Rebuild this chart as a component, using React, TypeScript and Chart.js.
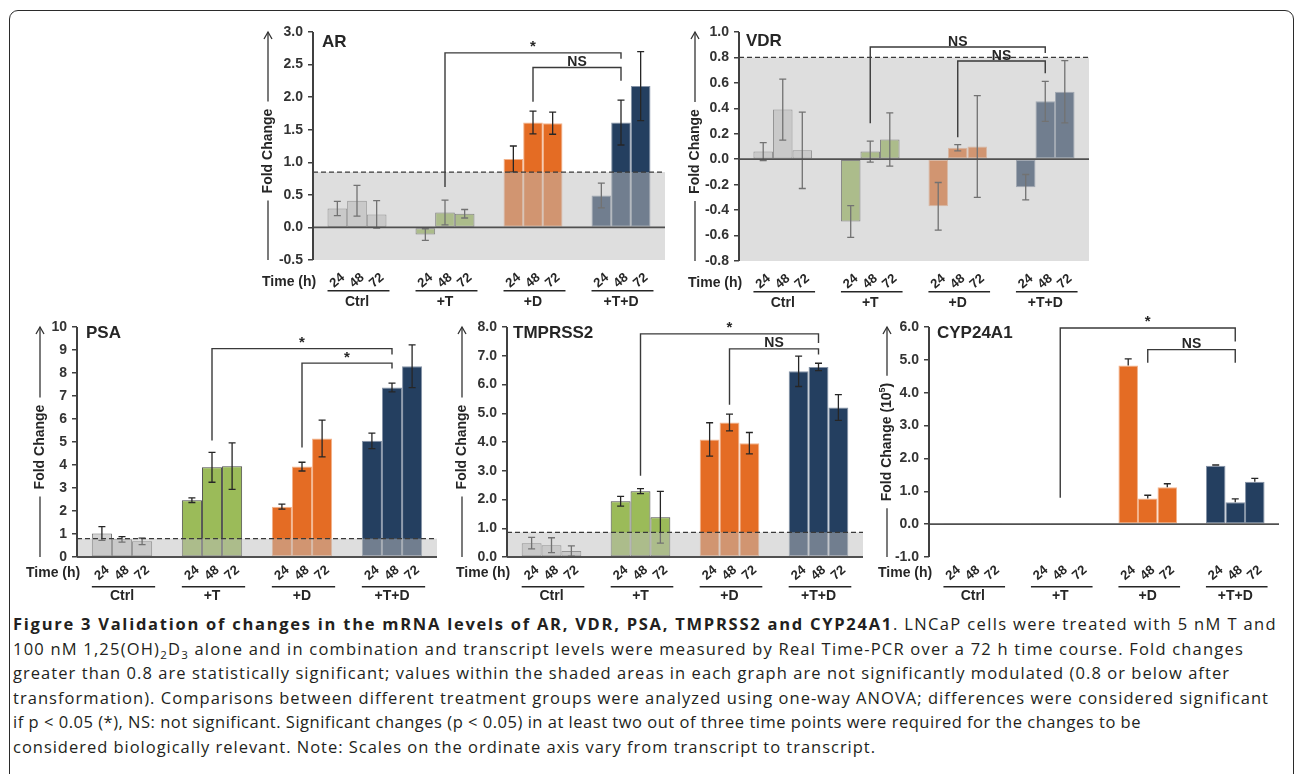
import React, { useEffect, useLayoutEffect, useRef } from 'react';
import { Chart, registerables } from 'chart.js';

Chart.register(...registerables);

// ---------- data ----------
const TIMES = ['24', '48', '72'];
const GROUPS = ['Ctrl', '+T', '+D', '+T+D'];

// AR
const AR_24 = [0.29, -0.11, 1.05, 0.49];
const AR_48 = [0.41, 0.23, 1.61, 1.61];
const AR_72 = [0.2, 0.21, 1.6, 2.17];
const AR_ERR_24 = [0.11, 0.09, 0.2, 0.19];
const AR_ERR_48 = [0.235, 0.19, 0.175, 0.345];
const AR_ERR_72 = [0.21, 0.065, 0.17, 0.53];

// VDR
const VDR_24 = [0.06, -0.49, -0.37, -0.22];
const VDR_48 = [0.39, 0.06, 0.09, 0.455];
const VDR_72 = [0.07, 0.155, 0.1, 0.53];
const VDR_ERR_24 = [0.07, 0.125, 0.187, 0.1];
const VDR_ERR_48 = [0.24, 0.083, 0.025, 0.157];
const VDR_ERR_72 = [0.3, 0.21, 0.4, 0.245];

// PSA
const PSA_24 = [1.02, 2.47, 2.19, 5.05];
const PSA_48 = [0.77, 3.9, 3.93, 7.37];
const PSA_72 = [0.68, 3.95, 5.15, 8.29];
const PSA_ERR_24 = [0.3, 0.1, 0.11, 0.34];
const PSA_ERR_48 = [0.12, 0.65, 0.19, 0.19];
const PSA_ERR_72 = [0.14, 1.01, 0.8, 0.93];

// TMPRSS2
const TMP_24 = [0.48, 1.94, 4.09, 6.46];
const TMP_48 = [0.41, 2.29, 4.68, 6.61];
const TMP_72 = [0.21, 1.38, 3.96, 5.2];
const TMP_ERR_24 = [0.2, 0.17, 0.58, 0.53];
const TMP_ERR_48 = [0.26, 0.085, 0.29, 0.13];
const TMP_ERR_72 = [0.18, 0.9, 0.37, 0.45];

// CYP24A1 (x10^5)
const CYP_24 = [0.01, 0.01, 4.83, 1.78];
const CYP_48 = [0.01, 0.01, 0.78, 0.67];
const CYP_72 = [0.01, 0.01, 1.12, 1.29];
const CYP_ERR_24 = [0, 0, 0.2, 0.02];
const CYP_ERR_48 = [0, 0, 0.1, 0.1];
const CYP_ERR_72 = [0, 0, 0.11, 0.1];

// significance brackets: [group, time] endpoints, levels in data units
const AR_BRACKETS = [
  { from: [1, 1], to: [3, 1], top: 2.68, start: 0.62, end: 2.59, label: '*' },
  { from: [2, 1], to: [3, 1], top: 2.455, start: 1.93, end: 2.25, label: 'NS' },
];
const VDR_BRACKETS = [
  { from: [1, 1], to: [3, 1], top: 0.882, start: 0.282, end: 0.835, label: 'NS' },
  { from: [2, 1], to: [3, 1], top: 0.772, start: 0.172, end: 0.675, label: 'NS' },
];
const PSA_BRACKETS = [
  { from: [1, 1], to: [3, 1], top: 9.06, start: 5.07, end: 8.8, label: '*' },
  { from: [2, 1], to: [3, 1], top: 8.43, start: 4.76, end: 8.2, label: '*' },
];
const TMP_BRACKETS = [
  { from: [1, 1], to: [3, 1], top: 7.76, start: 2.83, end: 7.44, label: '*' },
  { from: [2, 1], to: [3, 1], top: 7.24, start: 5.3, end: 7.04, label: 'NS' },
];
const CYP_BRACKETS = [
  { from: [1, 1], to: [3, 1], top: 5.97, start: 0.8, end: 5.56, label: '*' },
  { from: [2, 1], to: [3, 1], top: 5.31, start: 4.91, end: 4.91, label: 'NS' },
];

// ---------- styles ----------
const FILL = ['#D4D4D4', '#9BBB59', '#E46C24', '#243F60'];
const EDGE = ['#6A6A6A', '#4A4A4A', '#F2B38C', '#8593A6'];
const SANS = '"Liberation Sans", Arial, sans-serif';
const INK = '#262626';

type Part = { t: string; sup?: boolean };
type Cfg = {
  id: string;
  title: string;
  series: number[][];
  errs: number[][];
  upOnly?: boolean;
  min: number;
  max: number;
  step: number;
  dec: number;
  shade: number | null;
  brackets: any[];
  axisX: number;
  plotTop: number;
  plotBottom: number;
  plotRight: number;
  titleDx: number;
  titleDy: number;
  ytOff: number;
  ytShift: number;
  yt: Part[];
  lab: { num: number; time: number; line: number; grp: number };
};

const TOP_LAB = { num: 20.5, time: 22.5, line: 30.7, grp: 41.7 };
const BOT_LAB = { num: 16, time: 16.3, line: 29.7, grp: 39 };
const FC: Part[] = [{ t: 'Fold Change' }];

const PANELS: Cfg[] = [
  {
    id: 'ar', title: 'AR', series: [AR_24, AR_48, AR_72], errs: [AR_ERR_24, AR_ERR_48, AR_ERR_72],
    min: -0.5, max: 3, step: 0.5, dec: 1, shade: 0.85, brackets: AR_BRACKETS,
    axisX: 313, plotTop: 32, plotBottom: 260, plotRight: 665,
    titleDx: 9, titleDy: 10, ytOff: 45, ytShift: 5, yt: FC, lab: TOP_LAB,
  },
  {
    id: 'vdr', title: 'VDR', series: [VDR_24, VDR_48, VDR_72], errs: [VDR_ERR_24, VDR_ERR_48, VDR_ERR_72],
    min: -0.8, max: 1.0, step: 0.2, dec: 1, shade: 0.8, brackets: VDR_BRACKETS,
    axisX: 739, plotTop: 32, plotBottom: 261, plotRight: 1089,
    titleDx: 7, titleDy: 9, ytOff: 44, ytShift: 5, yt: FC, lab: TOP_LAB,
  },
  {
    id: 'psa', title: 'PSA', series: [PSA_24, PSA_48, PSA_72], errs: [PSA_ERR_24, PSA_ERR_48, PSA_ERR_72],
    min: 0, max: 10, step: 1, dec: 0, shade: 0.8, brackets: PSA_BRACKETS,
    axisX: 77, plotTop: 327, plotBottom: 557, plotRight: 437,
    titleDx: 9, titleDy: 6, ytOff: 37, ytShift: 5, yt: FC, lab: BOT_LAB,
  },
  {
    id: 'tmp', title: 'TMPRSS2', series: [TMP_24, TMP_48, TMP_72], errs: [TMP_ERR_24, TMP_ERR_48, TMP_ERR_72],
    min: 0, max: 8, step: 1, dec: 1, shade: 0.86, brackets: TMP_BRACKETS,
    axisX: 507, plotTop: 327, plotBottom: 557, plotRight: 863,
    titleDx: 6, titleDy: 6, ytOff: 45, ytShift: 5, yt: FC, lab: BOT_LAB,
  },
  {
    id: 'cyp', title: 'CYP24A1', series: [CYP_24, CYP_48, CYP_72], errs: [CYP_ERR_24, CYP_ERR_48, CYP_ERR_72],
    upOnly: true, min: -1, max: 6, step: 1, dec: 1, shade: null, brackets: CYP_BRACKETS,
    axisX: 929, plotTop: 327, plotBottom: 557, plotRight: 1279,
    titleDx: 8, titleDy: 6, ytOff: 42, ytShift: 0,
    yt: [{ t: 'Fold Change (10' }, { t: '5', sup: true }, { t: ')' }], lab: BOT_LAB,
  },
];

const PAD_L = 62;
const PAD_T = 14;
const PAD_B = 50;
const PAD_R = 6;

function line(ctx: CanvasRenderingContext2D, x1: number, y1: number, x2: number, y2: number) {
  ctx.beginPath();
  ctx.moveTo(x1, y1);
  ctx.lineTo(x2, y2);
  ctx.stroke();
}

function decoPlugin(cfg: Cfg) {
  return {
    id: 'deco_' + cfg.id,
    afterDatasetsDraw(chart: any) {
      const ctx: CanvasRenderingContext2D = chart.ctx;
      const ca = chart.chartArea;
      const ys = chart.scales.y;
      ctx.save();
      // error bars
      chart.data.datasets.forEach((ds: any, di: number) => {
        const meta = chart.getDatasetMeta(di);
        meta.data.forEach((el: any, i: number) => {
          const e = cfg.errs[di][i];
          if (!e) return;
          const v = ds.data[i];
          const yHi = ys.getPixelForValue(v + e);
          const yLo = ys.getPixelForValue(cfg.upOnly ? v : v - e);
          ctx.strokeStyle = INK;
          ctx.lineWidth = 1.3;
          ctx.beginPath();
          ctx.moveTo(el.x, yLo);
          ctx.lineTo(el.x, yHi);
          ctx.moveTo(el.x - 3.5, yHi);
          ctx.lineTo(el.x + 3.5, yHi);
          if (!cfg.upOnly) {
            ctx.moveTo(el.x - 3.5, yLo);
            ctx.lineTo(el.x + 3.5, yLo);
          }
          ctx.stroke();
        });
      });
      // non-significant shaded band
      if (cfg.shade !== null) {
        const yt = ys.getPixelForValue(cfg.shade);
        ctx.fillStyle = 'rgba(189,189,189,0.5)';
        ctx.fillRect(ca.left, yt, ca.right - ca.left, ca.bottom - yt);
      }
      // zero line
      const y0 = ys.getPixelForValue(0);
      ctx.strokeStyle = '#505050';
      ctx.lineWidth = 1.8;
      line(ctx, ca.left, y0, ca.right, y0);
      // dashed threshold
      if (cfg.shade !== null) {
        const yt = ys.getPixelForValue(cfg.shade);
        ctx.strokeStyle = '#3A3A3A';
        ctx.lineWidth = 1.3;
        ctx.setLineDash([5, 3]);
        line(ctx, ca.left, yt, ca.right, yt);
        ctx.setLineDash([]);
      }
      // y axis line
      ctx.strokeStyle = '#404040';
      ctx.lineWidth = 2;
      line(ctx, ca.left, ca.top, ca.left, ca.bottom);
      ctx.restore();
    },
    afterDraw(chart: any) {
      const ctx: CanvasRenderingContext2D = chart.ctx;
      const ca = chart.chartArea;
      const ys = chart.scales.y;
      ctx.save();
      ctx.fillStyle = INK;
      // panel title
      ctx.font = `bold 17px ${SANS}`;
      ctx.textAlign = 'left';
      ctx.textBaseline = 'middle';
      ctx.fillText(cfg.title, ca.left + cfg.titleDx, ca.top + cfg.titleDy);

      // brackets
      cfg.brackets.forEach((b: any) => {
        const xa = chart.getDatasetMeta(b.from[1]).data[b.from[0]].x;
        const xb = chart.getDatasetMeta(b.to[1]).data[b.to[0]].x;
        const yt = ys.getPixelForValue(b.top);
        ctx.strokeStyle = '#3A3A3A';
        ctx.lineWidth = 1.4;
        ctx.beginPath();
        ctx.moveTo(xa, ys.getPixelForValue(b.start));
        ctx.lineTo(xa, yt);
        ctx.lineTo(xb, yt);
        ctx.lineTo(xb, ys.getPixelForValue(b.end));
        ctx.stroke();
        ctx.font = b.label === '*' ? `bold 15px ${SANS}` : `bold 14px ${SANS}`;
        ctx.textAlign = 'center';
        ctx.textBaseline = 'alphabetic';
        ctx.fillText(b.label, (xa + xb) / 2, yt - 1.5);
      });

      // y title with arrow
      const xT = ca.left - cfg.ytOff;
      const yc = (ca.top + ca.bottom) / 2 + cfg.ytShift;
      const mainF = `bold 14px ${SANS}`;
      const supF = `bold 9px ${SANS}`;
      const widths = cfg.yt.map((p) => {
        ctx.font = p.sup ? supF : mainF;
        return ctx.measureText(p.t).width;
      });
      const total = widths.reduce((a, b) => a + b, 0);
      ctx.strokeStyle = '#333';
      ctx.lineWidth = 1.3;
      line(ctx, xT, ca.top, xT, yc - total / 2 - 7);
      line(ctx, xT, yc + total / 2 + 7, xT, ca.bottom);
      ctx.beginPath();
      ctx.moveTo(xT - 4, ca.top + 7);
      ctx.lineTo(xT, ca.top);
      ctx.lineTo(xT + 4, ca.top + 7);
      ctx.stroke();
      ctx.save();
      ctx.translate(xT, yc);
      ctx.rotate(-Math.PI / 2);
      ctx.textAlign = 'left';
      ctx.textBaseline = 'middle';
      let cx = -total / 2;
      cfg.yt.forEach((p, i) => {
        ctx.font = p.sup ? supF : mainF;
        ctx.fillText(p.t, cx, p.sup ? -4 : 0);
        cx += widths[i];
      });
      ctx.restore();

      // x labels
      ctx.font = `bold 14px ${SANS}`;
      ctx.textAlign = 'left';
      ctx.textBaseline = 'middle';
      ctx.fillText('Time (h)', ca.left - 51, ca.bottom + cfg.lab.time);
      GROUPS.forEach((g, i) => {
        const els = TIMES.map((_, di) => chart.getDatasetMeta(di).data[i]);
        els.forEach((el: any, di: number) => {
          ctx.save();
          ctx.translate(el.x, ca.bottom + cfg.lab.num);
          ctx.rotate((-40 * Math.PI) / 180);
          ctx.font = `bold 13px ${SANS}`;
          ctx.textAlign = 'center';
          ctx.textBaseline = 'middle';
          ctx.fillText(TIMES[di], 0, 0);
          ctx.restore();
        });
        const l = els[0].x - els[0].width / 2;
        const r = els[2].x + els[2].width / 2 + 3;
        ctx.strokeStyle = INK;
        ctx.lineWidth = 1.5;
        line(ctx, l, ca.bottom + cfg.lab.line, r, ca.bottom + cfg.lab.line);
        ctx.font = `bold 14px ${SANS}`;
        ctx.textAlign = 'center';
        ctx.textBaseline = 'middle';
        ctx.fillText(g, els[1].x, ca.bottom + cfg.lab.grp);
      });
      ctx.restore();
    },
  };
}

function Panel({ cfg }: { cfg: Cfg }) {
  const ref = useRef<HTMLCanvasElement>(null);
  const L = cfg.axisX - PAD_L;
  const T = cfg.plotTop - PAD_T;
  const W = cfg.plotRight - L + PAD_R;
  const H = cfg.plotBottom - T + PAD_B;

  useEffect(() => {
    const chart = new Chart(ref.current as HTMLCanvasElement, {
      type: 'bar',
      data: {
        labels: GROUPS,
        datasets: TIMES.map((t, di) => ({
          label: t + ' h',
          data: cfg.series[di],
          backgroundColor: FILL,
          borderColor: EDGE,
          borderWidth: 1,
          borderSkipped: false,
          barPercentage: 1,
          categoryPercentage: 0.67,
        })),
      },
      options: {
        responsive: false,
        animation: false,
        devicePixelRatio: 1,
        layout: { padding: { top: PAD_T, bottom: PAD_B, right: PAD_R, left: 0 } },
        plugins: { legend: { display: false }, tooltip: { enabled: false } },
        scales: {
          x: { display: false },
          y: {
            min: cfg.min,
            max: cfg.max,
            ticks: {
              stepSize: cfg.step,
              padding: 5,
              color: '#333',
              font: { family: SANS, size: 14, weight: 'bold' },
              callback: (v: any) => Number(v).toFixed(cfg.dec),
            },
            grid: {
              drawOnChartArea: false,
              drawTicks: true,
              tickLength: 5,
              color: '#404040',
              lineWidth: 1.5,
            },
            border: { display: false },
            afterFit: (s: any) => {
              s.width = PAD_L;
            },
          },
        },
      } as any,
      plugins: [decoPlugin(cfg)],
    });
    return () => chart.destroy();
  }, [cfg]);

  return (
    <canvas
      ref={ref}
      width={W}
      height={H}
      style={{ position: 'absolute', left: L, top: T, width: W, height: H }}
    />
  );
}

// ---------- caption ----------
const CAP_LEFT = 13;
const CAP_LINE_ENDS = [1277, 1244, 1230, 1269, 1141, 876];
const CAP_BOLD_END = 893;

const CAP_STYLE: React.CSSProperties = {
  position: 'absolute',
  left: CAP_LEFT,
  top: 612,
  fontFamily: '"Open Sans", "Noto Sans", sans-serif',
  fontSize: 16.5,
  lineHeight: '24.5px',
  color: '#231F20',
  whiteSpace: 'nowrap',
};
const SUB: React.CSSProperties = { fontSize: '0.7em', lineHeight: 0 };

function Caption() {
  const lines = useRef<(HTMLSpanElement | null)[]>([]);
  const boldRef = useRef<HTMLSpanElement>(null);

  useLayoutEffect(() => {
    const b = boldRef.current;
    if (b) {
      b.style.letterSpacing = '0px';
      const r = b.getBoundingClientRect();
      const n = (b.textContent || '').length;
      b.style.letterSpacing = (CAP_BOLD_END - r.right) / n + 'px';
    }
    lines.current.forEach((el, i) => {
      if (!el) return;
      el.style.letterSpacing = '0px';
      const r = el.getBoundingClientRect();
      let n = (el.textContent || '').length;
      if (i === 0 && b) n -= (b.textContent || '').length;
      el.style.letterSpacing = (CAP_LINE_ENDS[i] - r.right) / n + 'px';
    });
  }, []);

  const set = (i: number) => (el: HTMLSpanElement | null) => {
    lines.current[i] = el;
  };

  return (
    <div style={CAP_STYLE}>
      <div>
        <span ref={set(0)}>
          <span ref={boldRef} style={{ fontWeight: 700 }}>
            Figure 3 Validation of changes in the mRNA levels of AR, VDR, PSA, TMPRSS2 and CYP24A1
          </span>
          . LNCaP cells were treated with 5 nM T and
        </span>
      </div>
      <div>
        <span ref={set(1)}>
          100 nM 1,25(OH)<sub style={SUB}>2</sub>D<sub style={SUB}>3</sub> alone and in combination and transcript levels were measured by Real Time-PCR over a 72 h time course. Fold changes
        </span>
      </div>
      <div>
        <span ref={set(2)}>
          greater than 0.8 are statistically significant; values within the shaded areas in each graph are not significantly modulated (0.8 or below after
        </span>
      </div>
      <div>
        <span ref={set(3)}>
          transformation). Comparisons between different treatment groups were analyzed using one-way ANOVA; differences were considered significant
        </span>
      </div>
      <div>
        <span ref={set(4)}>
          if p &lt; 0.05 (*), NS: not significant. Significant changes (p &lt; 0.05) in at least two out of three time points were required for the changes to be
        </span>
      </div>
      <div>
        <span ref={set(5)}>
          considered biologically relevant. Note: Scales on the ordinate axis vary from transcript to transcript.
        </span>
      </div>
    </div>
  );
}

export default function App() {
  return (
    <div style={{ position: 'absolute', left: 0, top: 0, width: 1296, height: 774, background: '#fff', overflow: 'hidden' }}>
      <div
        style={{
          position: 'absolute',
          left: 9,
          top: 10,
          width: 1285,
          height: 780,
          border: '1.5px solid #2B2B2B',
          borderRadius: 9,
          boxSizing: 'border-box',
        }}
      />
      {PANELS.map((p) => (
        <Panel key={p.id} cfg={p} />
      ))}
      <Caption />
    </div>
  );
}
